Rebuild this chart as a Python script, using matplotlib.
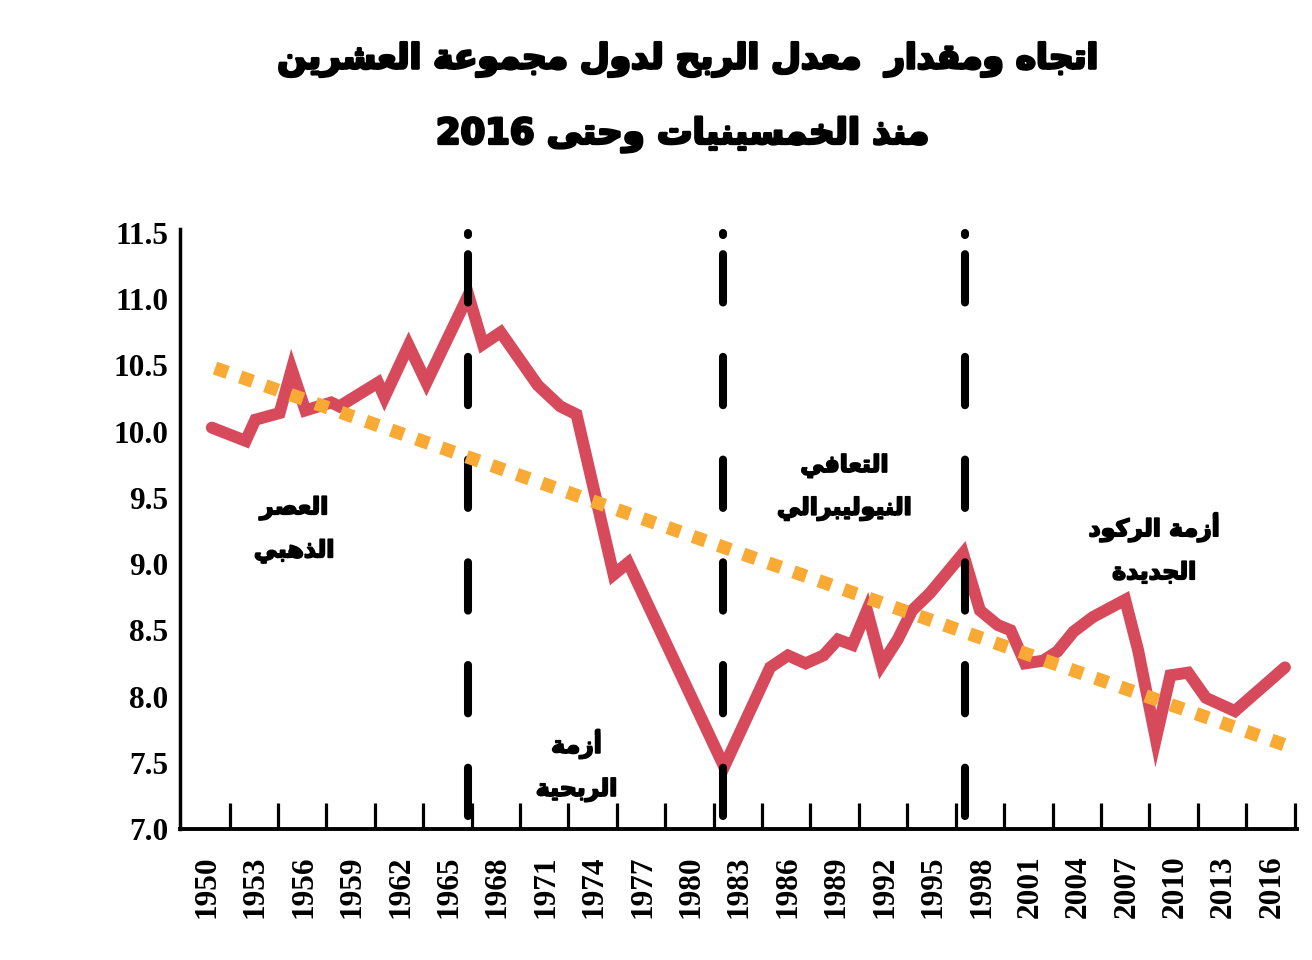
import re
import matplotlib
matplotlib.use("Agg")
import matplotlib.pyplot as plt
import matplotlib.patheffects as pe

# ---- data ----
years = [1950.3, 1952.4, 1953.0, 1954.5, 1955.25, 1956.1, 1957.7, 1958.2, 1960.6, 1961.0,
         1962.5, 1963.6, 1966.2, 1967.1, 1968.2, 1970.5, 1971.9, 1972.9, 1975.2, 1976.1,
         1982.05, 1984.9, 1986.0, 1987.1, 1988.2, 1989.1, 1990.0, 1990.9, 1991.8, 1992.8,
         1993.7, 1994.8, 1996.85, 1997.9, 1999.0, 1999.8, 2000.7, 2001.8, 2002.7, 2003.7,
         2004.9, 2006.9, 2007.7, 2008.8, 2009.7, 2010.8, 2011.9, 2013.7, 2016.8]
profit_rate = [10.03, 9.93, 10.09, 10.14, 10.47, 10.16, 10.22, 10.19, 10.37, 10.26,
               10.65, 10.37, 11.03, 10.66, 10.75, 10.35, 10.19, 10.13, 8.92, 9.01,
               7.47, 8.22, 8.31, 8.25, 8.31, 8.43, 8.39, 8.65, 8.24, 8.43,
               8.65, 8.78, 9.08, 8.65, 8.54, 8.50, 8.25, 8.27, 8.34, 8.49,
               8.60, 8.73, 8.35, 7.68, 8.16, 8.18, 7.99, 7.89, 8.22]

trend_years = [1950.5, 2016.9]
trend_values = [10.48, 7.63]

crisis_years = [1966.2, 1982.0, 1997.0]

tick_years = list(range(1950, 2017, 3))
y_ticks = [7.0, 7.5, 8.0, 8.5, 9.0, 9.5, 10.0, 10.5, 11.0, 11.5]

title_1 = "اتجاه ومقدار  معدل الربح لدول مجموعة العشرين"
title_2 = "منذ الخمسينيات وحتى 2016"

# period labels and where they sit (year, value)
period_labels = ["العصر\nالذهبي", "أزمة\nالربحية", "التعافي\nالنيوليبرالي", "أزمة الركود\nالجديدة"]
label_years = [1955.4, 1972.9, 1989.5, 2008.7]
label_values = [9.26, 7.48, 9.58, 9.12]

# ---- minimal arabic shaping (matplotlib has no complex text layout) ----
DUAL = {'ب': 0xFE8F, 'ت': 0xFE95, 'ج': 0xFE9D, 'ح': 0xFEA1, 'خ': 0xFEA5, 'س': 0xFEB1,
        'ش': 0xFEB5, 'ص': 0xFEB9, 'ع': 0xFEC9, 'ف': 0xFED1, 'ق': 0xFED5, 'ك': 0xFED9,
        'ل': 0xFEDD, 'م': 0xFEE1, 'ن': 0xFEE5, 'ه': 0xFEE9, 'ي': 0xFEF1}
RIGHT = {'ا': 0xFE8D, 'أ': 0xFE83, 'ة': 0xFE93, 'د': 0xFEA9, 'ذ': 0xFEAB, 'ر': 0xFEAD,
         'ز': 0xFEAF, 'و': 0xFEED, 'ى': 0xFEEF}
LAM_ALEF = {'ا': 0xFEFB, 'أ': 0xFEF7}


def shape(line):
    out = []
    i = 0
    n = len(line)
    while i < n:
        c = line[i]
        prev_joins = i > 0 and line[i - 1] in DUAL
        if c == 'ل' and i + 1 < n and line[i + 1] in LAM_ALEF:
            out.append(chr(LAM_ALEF[line[i + 1]] + (1 if prev_joins else 0)))
            i += 2
            continue
        if c in DUAL:
            nxt = line[i + 1] if i + 1 < n else ''
            next_joins = nxt in DUAL or nxt in RIGHT
            base = DUAL[c]
            if prev_joins and next_joins:
                out.append(chr(base + 3))
            elif prev_joins:
                out.append(chr(base + 1))
            elif next_joins:
                out.append(chr(base + 2))
            else:
                out.append(chr(base))
        elif c in RIGHT:
            out.append(chr(RIGHT[c] + (1 if prev_joins else 0)))
        else:
            out.append(c)
        i += 1
    shaped = ''.join(out)
    runs = re.findall(r'\d+|\D+', shaped)
    return ''.join(r if r.isdigit() else r[::-1] for r in reversed(runs))


def ar(text):
    return '\n'.join(shape(l) for l in text.split('\n'))


# ---- figure ----
RED = '#d64a5b'
ORANGE = '#f8aa35'
AR_FONT = 'DejaVu Sans'
NUM_FONT = 'Liberation Serif'
heavy = [pe.withStroke(linewidth=1.3, foreground='black')]

fig = plt.figure(figsize=(13.12, 9.6), dpi=100)
ax = fig.add_axes([0.1372, 0.1365, 0.8514, 0.625])

ax.plot(years, profit_rate, color=RED, lw=8.6, solid_joinstyle='miter',
        solid_capstyle='round', zorder=2)

for yr in crisis_years:
    ax.plot([yr, yr], [11.509, 6.99], color='black', lw=5.8,
            linestyle=(10, (6.0, 6.75)), dash_capstyle='round', zorder=3, clip_on=False)
    ax.plot([yr, yr], [11.485, 11.50], color='black', lw=5.8,
            solid_capstyle='round', zorder=3)

ax.plot(trend_years, trend_values, color=ORANGE, lw=9.6,
        linestyle=(0, (1, 1)), dash_capstyle='butt', zorder=4)

for txt, yr, val in zip(period_labels, label_years, label_values):
    ax.text(yr, val, ar(txt), ha='center', va='center', fontsize=17,
            fontfamily=AR_FONT, fontweight='bold', linespacing=1.95, zorder=5,
            path_effects=heavy)

ax.set_xlim(1948.33, 2017.55)
ax.set_ylim(7.0, 11.53)

ax.set_xticks(tick_years)
ax.set_xticklabels([str(y) for y in tick_years], rotation=90,
                   fontfamily=NUM_FONT, fontweight='bold', fontsize=22.5)
ax.set_xticks([1951.4 + 3 * k for k in range(23)], minor=True)
ax.tick_params(axis='x', which='major', length=0, pad=19)
ax.tick_params(axis='x', which='minor', direction='in', length=18.5, width=2.3)

ax.set_yticks(y_ticks)
ax.set_yticklabels([f"{v:.1f}" for v in y_ticks],
                   fontfamily=NUM_FONT, fontweight='bold', fontsize=22.5)
ax.tick_params(axis='y', length=0, pad=8.5)

for side in ['top', 'right']:
    ax.spines[side].set_visible(False)
ax.spines['bottom'].set_linewidth(2.8)
ax.spines['left'].set_linewidth(2.5)

fig.text(0.523, 0.938, ar(title_1), ha='center', va='center', fontsize=24.7,
         fontfamily=AR_FONT, fontweight='bold',
         path_effects=[pe.withStroke(linewidth=2.0, foreground='black')])
fig.text(0.52, 0.860, ar(title_2), ha='center', va='center', fontsize=25.5,
         fontfamily=AR_FONT, fontweight='bold',
         path_effects=[pe.withStroke(linewidth=2.0, foreground='black')])

fig.savefig('out.png', dpi=100, facecolor='white')
